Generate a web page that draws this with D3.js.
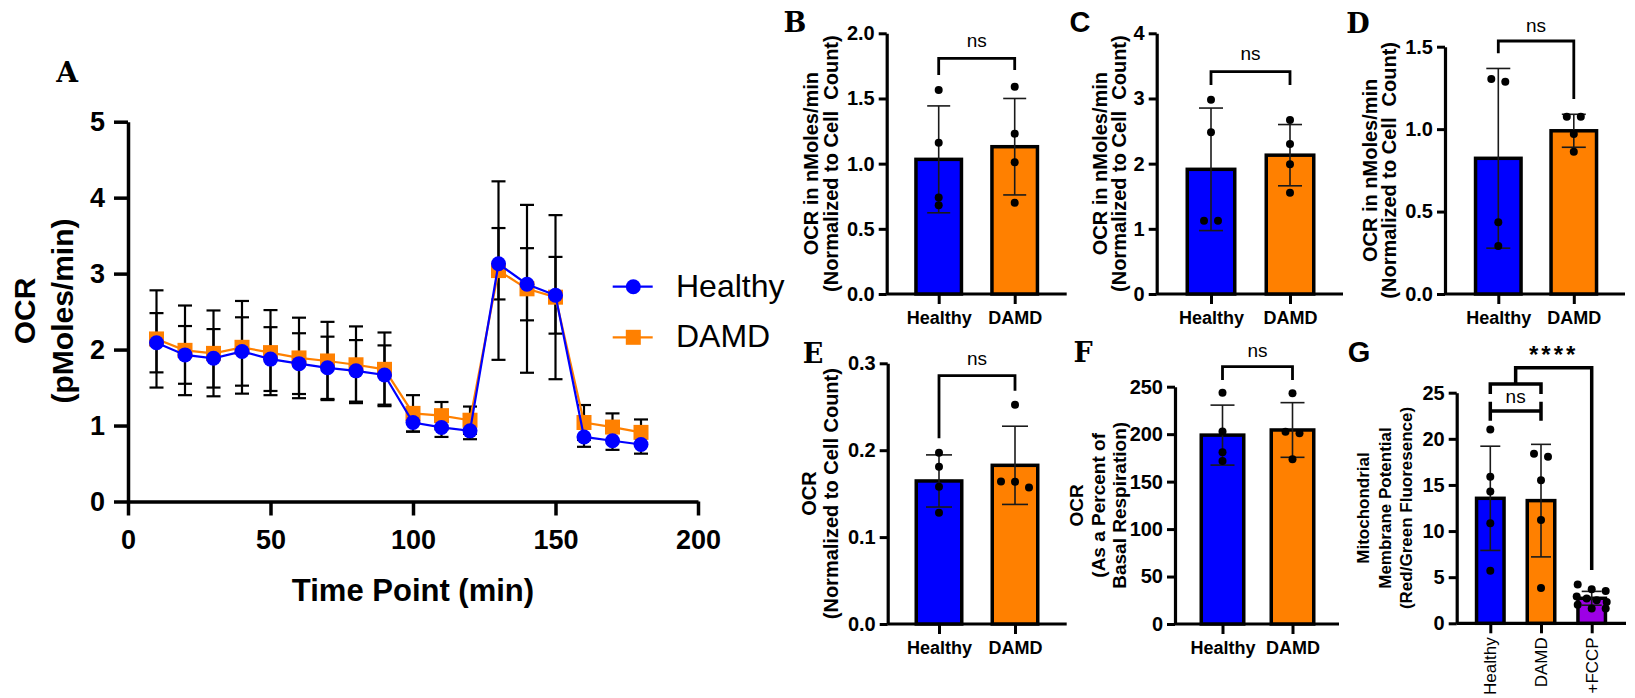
<!DOCTYPE html>
<html>
<head>
<meta charset="utf-8">
<script src="https://d3js.org/d3.v7.min.js"></script>
<style>
  body { margin: 0; background: #fff; }
  svg { display: block; }
</style>
</head>
<body>
<svg id="fig" width="1635" height="698"></svg>
<script>
// ---- DATA ----
// panel A : OCR time course
const timePoints = [10, 20, 30, 40, 50, 60, 70, 80, 90, 100, 110, 120, 130, 140, 150, 160, 170, 180];
const healthyOCR = [2.09, 1.93, 1.885, 1.975, 1.875, 1.815, 1.76, 1.72, 1.665, 1.04, 0.975, 0.93, 3.13, 2.86, 2.715, 0.85, 0.80, 0.75];
const healthySD  = [0.39, 0.38, 0.385, 0.45, 0.42, 0.40, 0.41, 0.405, 0.39, 0.12, 0.125, 0.11, 0.47, 0.475, 0.505, 0.13, 0.12, 0.12];
const damdOCR    = [2.14, 1.99, 1.95, 2.03, 1.96, 1.89, 1.85, 1.80, 1.74, 1.16, 1.13, 1.07, 3.04, 2.80, 2.69, 1.04, 0.98, 0.91];
const damdSD     = [0.64, 0.59, 0.565, 0.61, 0.56, 0.53, 0.515, 0.505, 0.485, 0.24, 0.18, 0.18, 1.175, 1.105, 1.08, 0.23, 0.18, 0.17];
const aXTicks = [0, 50, 100, 150, 200];
const aYTicks = [0, 1, 2, 3, 4, 5];
const seriesNames = ["Healthy", "DAMD"];

// bar panels
const groups = ["Healthy", "DAMD"];
const groupsG = ["Healthy", "DAMD", "+FCCP"];

const bMeans = [1.033, 1.13];
const bSDs = [0.41, 0.37];
const bPoints = [[1.565, 1.16, 0.74, 0.68], [1.59, 1.23, 1.01, 0.70]];
const bTicks = [0, 0.5, 1.0, 1.5, 2.0];

const cMeans = [1.913, 2.13];
const cSDs = [0.94, 0.47];
const cPoints = [[2.98, 2.48, 1.125, 1.125], [2.67, 2.30, 1.99, 1.555]];
const cTicks = [0, 1, 2, 3, 4];

const dMeans = [0.823, 0.99];
const dSDs = [0.545, 0.10];
const dPoints = [[1.304, 1.288, 0.435, 0.291], [1.075, 1.075, 0.97, 0.863]];
const dTicks = [0, 0.5, 1.0, 1.5];

const eMeans = [0.1646, 0.1826];
const eSDs = [0.030, 0.045];
const ePoints = [[0.197, 0.181, 0.158, 0.128], [0.2524, 0.164, 0.1638, 0.157]];
const eTicks = [0, 0.1, 0.2, 0.3];

const fMeans = [199, 204.4];
const fSDs = [31.6, 28.8];
const fPoints = [[243.7, 202.7, 180.9, 171.8], [243, 202.6, 201, 173.5]];
const fTicks = [0, 50, 100, 150, 200, 250];

const gMeans = [13.55, 13.3, 2.71];
const gSDs = [5.65, 6.1, 0.75];
const gPoints = [[21.0, 15.9, 14.3, 10.84, 5.71], [18.39, 18.06, 15.5, 11.2, 3.83],
                 [4.2, 3.7, 3.5, 2.9, 2.7, 2.5, 2.3, 2.0, 1.6, 1.6]];
const gTicks = [0, 5, 10, 15, 20, 25];

// ---- STYLE ----
const SANS = "'Liberation Sans', Arial, Helvetica, sans-serif";
const SERIF = "'DejaVu Serif', 'Liberation Serif', serif";
const BLUE = "#0000ff";
const ORANGE = "#ff8000";
const PURPLE = "#9d00e6";

const svg = d3.select("#fig");

// ---------- PANEL A ----------
const drawPanelA = () => {
  const g = svg.append("g");
  const x = d3.scaleLinear().domain([0, 200]).range([128, 698]);
  const y = d3.scaleLinear().domain([0, 5]).range([501.5, 121.7]);

  const yAxis = d3.axisLeft(y).tickValues(aYTicks).tickSize(14).tickPadding(9).tickSizeOuter(0)
    .tickFormat(d3.format("d"));
  const xAxis = d3.axisBottom(x).tickValues(aXTicks).tickSize(14).tickPadding(14).tickSizeOuter(0)
    .tickFormat(d3.format("d"));

  const ya = g.append("g").attr("transform", "translate(128,0)").call(yAxis);
  const xa = g.append("g").attr("transform", "translate(0,501.5)").call(xAxis);
  [ya, xa].forEach(a => {
    a.select(".domain").attr("stroke", "#000").attr("stroke-width", 3.5);
    a.selectAll(".tick line").attr("stroke", "#000").attr("stroke-width", 3.5);
    a.selectAll(".tick text").attr("fill", "#000")
      .style("font", "bold 27px " + SANS);
  });

  // error bars (under markers)
  const errBars = (means, sds) => {
    const eg = g.append("g").attr("stroke", "#000").attr("stroke-width", 2.2).attr("fill", "none");
    timePoints.forEach((t, i) => {
      const cx = x(t), top = y(means[i] + sds[i]), bot = y(means[i] - sds[i]);
      eg.append("line").attr("x1", cx).attr("x2", cx).attr("y1", top).attr("y2", bot);
      eg.append("line").attr("x1", cx - 7).attr("x2", cx + 7).attr("y1", top).attr("y2", top);
      eg.append("line").attr("x1", cx - 7).attr("x2", cx + 7).attr("y1", bot).attr("y2", bot);
    });
  };
  errBars(damdOCR, damdSD);
  errBars(healthyOCR, healthySD);

  const line = d3.line().x((d, i) => x(timePoints[i])).y(d => y(d));

  g.append("path").attr("d", line(damdOCR)).attr("fill", "none")
    .attr("stroke", ORANGE).attr("stroke-width", 2.2);
  g.selectAll(".sq").data(damdOCR).join("rect")
    .attr("x", (d, i) => x(timePoints[i]) - 7.5).attr("y", d => y(d) - 7.5)
    .attr("width", 15).attr("height", 15).attr("fill", ORANGE);

  g.append("path").attr("d", line(healthyOCR)).attr("fill", "none")
    .attr("stroke", BLUE).attr("stroke-width", 2.2);
  g.selectAll(".ci").data(healthyOCR).join("circle")
    .attr("cx", (d, i) => x(timePoints[i])).attr("cy", d => y(d))
    .attr("r", 7.5).attr("fill", BLUE);

  // legend
  const lg = g.append("g");
  [[BLUE, 286.7, "circle"], [ORANGE, 337.3, "square"]].forEach(([c, ly, shape], i) => {
    lg.append("line").attr("x1", 612.7).attr("x2", 652.7).attr("y1", ly).attr("y2", ly)
      .attr("stroke", c).attr("stroke-width", 2.2);
    if (shape === "circle") {
      lg.append("circle").attr("cx", 633.3).attr("cy", ly).attr("r", 7.5).attr("fill", c);
    } else {
      lg.append("rect").attr("x", 625.8).attr("y", ly - 7.5).attr("width", 15).attr("height", 15).attr("fill", c);
    }
    lg.append("text").attr("x", 676).attr("y", ly - 1).attr("dominant-baseline", "central")
      .style("font", "32px " + SANS).text(seriesNames[i]);
  });

  // titles
  g.append("text").attr("x", 413).attr("y", 601).attr("text-anchor", "middle")
    .style("font", "bold 31px " + SANS).text("Time Point (min)");
  [["OCR", 24], ["(pMoles/min)", 62]].forEach(([t, tx]) => {
    g.append("text").attr("transform", `translate(${tx},311) rotate(-90)`)
      .attr("text-anchor", "middle").attr("dominant-baseline", "central")
      .style("font", "bold 30px " + SANS).text(t);
  });
  g.append("text").attr("x", 67).attr("y", 72).attr("text-anchor", "middle")
    .attr("dominant-baseline", "central").style("font", "bold 28px " + SERIF).text("A");
};

// ---------- BAR PANELS ----------
const jitter = (vals, y, sp) => {
  const order = d3.range(vals.length).sort((a, b) => vals[b] - vals[a]);
  const off = new Array(vals.length).fill(0);
  let i = 0;
  while (i < order.length) {
    const y0 = y(vals[order[i]]);
    let j = i + 1;
    while (j < order.length && Math.abs(y(vals[order[j]]) - y0) < 7) j++;
    const n = j - i;
    const s = n <= 3 ? sp : 30 / (n - 1);
    for (let k = 0; k < n; k++) off[order[i + k]] = (k - (n - 1) / 2) * s;
    i = j;
  }
  return off;
};

const drawBarPanel = p => {
  const g = svg.append("g");
  const y = d3.scaleLinear().domain([0, p.max]).range([p.y0, p.yTop]);
  const x = d3.scalePoint().domain(p.cats).range([p.ax + p.band[0], p.ax + p.band[1]]);

  // x axis baseline
  g.append("line").attr("x1", p.ax).attr("x2", p.axEnd).attr("y1", y(0)).attr("y2", y(0))
    .attr("stroke", "#000").attr("stroke-width", 3.2);

  const yAxis = d3.axisLeft(y).tickValues(p.ticks).tickSize(8).tickPadding(4).tickSizeOuter(0)
    .tickFormat(d3.format(p.fmt));
  const ya = g.append("g").attr("transform", `translate(${p.ax},0)`).call(yAxis);
  ya.select(".domain").attr("stroke", "#000").attr("stroke-width", 3.2);
  ya.selectAll(".tick line").attr("stroke", "#000").attr("stroke-width", 3);
  ya.selectAll(".tick text").attr("fill", "#000").style("font", "bold 20px " + SANS);

  const xAxis = d3.axisBottom(x).tickSize(10).tickPadding(p.rotLabels ? 4 : 7.5).tickSizeOuter(0);
  const xa = g.append("g").attr("transform", `translate(0,${y(0)})`).call(xAxis);
  xa.select(".domain").remove();
  xa.selectAll(".tick line").attr("stroke", "#000").attr("stroke-width", 3);
  if (p.rotLabels) {
    xa.selectAll(".tick text").attr("fill", "#000").attr("dy", null)
      .attr("transform", "translate(0,14) rotate(-90)").attr("x", 0).attr("y", 0)
      .attr("text-anchor", "end").attr("dominant-baseline", "central")
      .style("font", "17px " + SANS);
  } else {
    xa.selectAll(".tick text").attr("fill", "#000").style("font", "bold 18px " + SANS);
  }

  // bars
  const sw = 3.5;
  g.selectAll(".bar").data(p.means).join("rect")
    .attr("x", (d, i) => x(p.cats[i]) - p.barW / 2 + sw / 2)
    .attr("width", p.barW - sw)
    .attr("y", d => y(d))
    .attr("height", d => y(0) - y(d))
    .attr("fill", (d, i) => p.colors[i]).attr("stroke", "#000").attr("stroke-width", sw);

  // error bars
  const eg = g.append("g").attr("stroke", "#1a1a1a").attr("stroke-width", 1.6);
  p.means.forEach((m, i) => {
    const cx = x(p.cats[i]), top = y(m + p.sds[i]), bot = y(m - p.sds[i]);
    eg.append("line").attr("x1", cx).attr("x2", cx).attr("y1", top).attr("y2", bot);
    eg.append("line").attr("x1", cx - p.cap).attr("x2", cx + p.cap).attr("y1", top).attr("y2", top);
    eg.append("line").attr("x1", cx - p.cap).attr("x2", cx + p.cap).attr("y1", bot).attr("y2", bot);
  });

  // individual points
  p.pts.forEach((vals, i) => {
    const off = jitter(vals, y, 14);
    g.append("g").selectAll("circle").data(vals).join("circle")
      .attr("cx", (d, k) => x(p.cats[i]) + off[k]).attr("cy", d => y(d))
      .attr("r", 4).attr("fill", "#000");
  });

  // significance bracket
  const bg = g.append("g").attr("stroke", "#000").attr("stroke-width", 2.8).attr("fill", "none");
  if (p.bracket) {
    const b = p.bracket, xl = x(p.cats[0]), xr = x(p.cats[1]);
    bg.append("path").attr("d", `M${xl},${b.l}V${b.y}H${xr}V${b.r}`);
    g.append("text").attr("x", (xl + xr) / 2).attr("y", b.ty).attr("text-anchor", "middle")
      .attr("dominant-baseline", "central").style("font", "19px " + SANS).text("ns");
  }
  if (p.bracketG) {
    const xl = x(p.cats[0]), xm = x(p.cats[1]), xr = x(p.cats[2]), mid = (xl + xm) / 2;
    const b = p.bracketG;
    bg.attr("stroke-width", 3.5);
    bg.append("path").attr("d", `M${xl},${b.a2}V${b.a1}H${xm}V${b.a2}`);
    bg.append("path").attr("d", `M${xl},${b.b0}V${b.b2}M${xm},${b.b0}V${b.b2}M${xl},${b.b1}H${xm}`);
    bg.append("path").attr("d", `M${mid},${b.a1}V${b.top}H${xr}V${b.end}`);
    g.append("text").attr("x", mid).attr("y", b.nsY).attr("text-anchor", "middle")
      .attr("dominant-baseline", "central").style("font", "19px " + SANS).text("ns");
    g.append("text").attr("x", (mid + xr) / 2).attr("y", b.starY).attr("text-anchor", "middle")
      .attr("dominant-baseline", "central").style("font", "bold 24px " + SANS)
      .style("letter-spacing", "3px").text("****");
  }

  // y title
  p.title.forEach((t, i) => {
    g.append("text").attr("transform", `translate(${p.titleX[i]},${(p.y0 + p.yTop) / 2}) rotate(-90)`)
      .attr("text-anchor", "middle").attr("dominant-baseline", "central")
      .style("white-space", "pre")
      .style("font", `bold ${p.titleSize}px ${SANS}`).text(t);
  });

  // panel letter
  g.append("text").attr("x", p.lx).attr("y", p.ly).attr("text-anchor", "middle")
    .attr("dominant-baseline", "central")
    .style("font", p.serif ? "bold 27px " + SERIF : "bold 29px " + SANS).text(p.letter);
};

const twoColors = [BLUE, ORANGE];
const normTitle = ["OCR in nMoles/min", "(Normalized to Cell  Count)"];

const panels = [
  { letter: "B", serif: true, lx: 795, ly: 22, ax: 886.7, axEnd: 1066.7, yTop: 33.3, y0: 294, max: 2,
    ticks: bTicks, fmt: ".1f", cats: groups, band: [52, 128], barW: 49, cap: 11.5, colors: twoColors,
    means: bMeans, sds: bSDs, pts: bPoints, title: normTitle, titleX: [811, 831], titleSize: 20,
    bracket: { y: 58.3, l: 75, r: 70, ty: 40 } },
  { letter: "C", serif: false, lx: 1080, ly: 22, ax: 1156.7, axEnd: 1343, yTop: 33.3, y0: 294, max: 4,
    ticks: cTicks, fmt: "d", cats: groups, band: [54.3, 133.3], barW: 51, cap: 12, colors: twoColors,
    means: cMeans, sds: cSDs, pts: cPoints, title: normTitle, titleX: [1100, 1119], titleSize: 20,
    bracket: { y: 71.7, l: 85, r: 85, ty: 53.3 } },
  { letter: "D", serif: true, lx: 1358, ly: 23, ax: 1445, axEnd: 1625, yTop: 46.7, y0: 294, max: 1.5,
    ticks: dTicks, fmt: ".1f", cats: groups, band: [53.3, 128.8], barW: 49, cap: 12, colors: twoColors,
    means: dMeans, sds: dSDs, pts: dPoints, title: normTitle, titleX: [1370, 1389], titleSize: 20,
    bracket: { y: 41, l: 53.3, r: 99, ty: 25 } },
  { letter: "E", serif: true, lx: 813, ly: 353, ax: 887.7, axEnd: 1066.7, yTop: 363.3, y0: 624, max: 0.3,
    ticks: eTicks, fmt: ".1f", cats: groups, band: [51.3, 127.3], barW: 49, cap: 13, colors: twoColors,
    means: eMeans, sds: eSDs, pts: ePoints, title: ["OCR", "(Normalized to Cell Count)"], titleX: [809, 831],
    titleSize: 20, bracket: { y: 375.7, l: 438.3, r: 390.7, ty: 358.3 } },
  { letter: "F", serif: true, lx: 1083, ly: 352, ax: 1175, axEnd: 1339, yTop: 386.7, y0: 624, max: 250,
    ticks: fTicks, fmt: "d", cats: groups, band: [47.5, 117.5], barW: 46, cap: 12, colors: twoColors,
    means: fMeans, sds: fSDs, pts: fPoints, title: ["OCR", "(As a Percent of", "Basal Respiration)"],
    titleX: [1076, 1098, 1119], titleSize: 19, bracket: { y: 366.7, l: 380, r: 380, ty: 350.7 } },
  { letter: "G", serif: false, lx: 1359, ly: 352, ax: 1456.7, axEnd: 1626, yTop: 392.7, y0: 623.3, max: 25,
    ticks: gTicks, fmt: "d", cats: groupsG, band: [33.6, 135], barW: 31, cap: 10,
    colors: [BLUE, ORANGE, PURPLE], means: gMeans, sds: gSDs, pts: gPoints, rotLabels: true,
    title: ["Mitochondrial", "Membrane Potential", "(Red/Green Fluoresence)"],
    titleX: [1363.5, 1385, 1406.7], titleSize: 17,
    bracketG: { a1: 384, a2: 394, b0: 401.7, b1: 411, b2: 420.7, top: 367.7, end: 570, nsY: 396.7, starY: 354 } }
];

drawPanelA();
panels.forEach(drawBarPanel);
</script>
</body>
</html>
